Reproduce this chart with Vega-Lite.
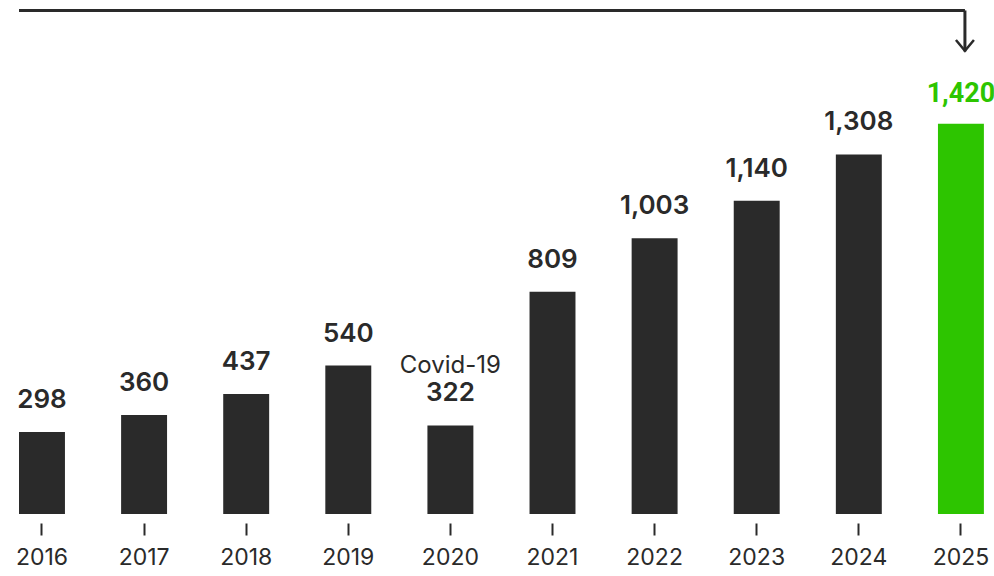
{
  "$schema": "https://vega.github.io/schema/vega-lite/v6.json",
  "width": 994,
  "height": 514,
  "autosize": {"type": "none"},
  "padding": {"left": 0, "top": 0, "right": 0, "bottom": 62},
  "background": "#ffffff",
  "config": {
    "view": {"stroke": null},
    "font": "Inter",
    "text": {"font": "Inter"}
  },
  "data": {
    "values": [
      {"year": "2016", "value": 298, "note": ""},
      {"year": "2017", "value": 360, "note": ""},
      {"year": "2018", "value": 437, "note": ""},
      {"year": "2019", "value": 540, "note": ""},
      {"year": "2020", "value": 322, "note": "Covid-19"},
      {"year": "2021", "value": 809, "note": ""},
      {"year": "2022", "value": 1003, "note": ""},
      {"year": "2023", "value": 1140, "note": ""},
      {"year": "2024", "value": 1308, "note": ""},
      {"year": "2025", "value": 1420, "note": ""}
    ]
  },
  "encoding": {
    "x": {
      "field": "year",
      "type": "ordinal",
      "scale": {"paddingInner": 0.55, "paddingOuter": 0.1425, "align": 0.653},
      "axis": {
        "title": null,
        "domain": false,
        "labelAngle": 0,
        "labelFontSize": 23,
        "labelFont": "Inter",
        "labelColor": "#2a2a2a",
        "labelPadding": 11,
        "offset": 9,
        "tickSize": 12,
        "tickWidth": 2,
        "tickColor": "#2a2a2a"
      }
    }
  },
  "layer": [
    {
      "mark": {"type": "bar", "color": "#2a2a2a"},
      "encoding": {
        "y": {"field": "value", "type": "quantitative", "scale": {"domain": [0, 1870], "nice": false}, "axis": null},
        "color": {
          "condition": {"test": "datum.year === '2025'", "value": "#2dc500"},
          "value": "#2a2a2a"
        }
      }
    },
    {
      "transform": [{"filter": "datum.year !== '2025'"}],
      "mark": {"type": "text", "baseline": "alphabetic", "dy": -24, "fontSize": 26, "fontWeight": 600, "color": "#2a2a2a"},
      "encoding": {
        "y": {"field": "value", "type": "quantitative"},
        "text": {"field": "value", "type": "quantitative", "format": ","}
      }
    },
    {
      "transform": [{"filter": "datum.year === '2025'"}],
      "mark": {"type": "text", "baseline": "alphabetic", "dy": -22, "fontSize": 27, "fontWeight": 700, "font": "Roboto", "color": "#2dc500"},
      "encoding": {
        "y": {"field": "value", "type": "quantitative"},
        "text": {"field": "value", "type": "quantitative", "format": ","}
      }
    },
    {
      "transform": [{"filter": "datum.note !== ''"}],
      "mark": {"type": "text", "baseline": "alphabetic", "dy": -52, "fontSize": 24, "fontWeight": 400, "color": "#2a2a2a"},
      "encoding": {
        "y": {"field": "value", "type": "quantitative"},
        "text": {"field": "note"}
      }
    },
    {
      "transform": [{"filter": "datum.year === '2016'"}],
      "mark": {"type": "rule", "color": "#2a2a2a", "strokeWidth": 3, "x2Offset": 4},
      "encoding": {
        "x": {"field": "year", "type": "ordinal", "bandPosition": 0},
        "x2": {"datum": "2025"},
        "y": {"datum": 1832}
      }
    },
    {
      "transform": [{"filter": "datum.year === '2025'"}],
      "mark": {"type": "rule", "color": "#2a2a2a", "strokeWidth": 3, "xOffset": 4},
      "encoding": {
        "y": {"datum": 1832},
        "y2": {"datum": 1683}
      }
    },
    {
      "transform": [{"filter": "datum.year === '2025'"}],
      "mark": {"type": "point", "shape": "M-1,-0.6L0,0.6L1,-0.6", "filled": false, "color": "#2a2a2a", "strokeWidth": 2.5, "size": 324, "opacity": 1, "xOffset": 4},
      "encoding": {
        "y": {"datum": 1705}
      }
    }
  ]
}
